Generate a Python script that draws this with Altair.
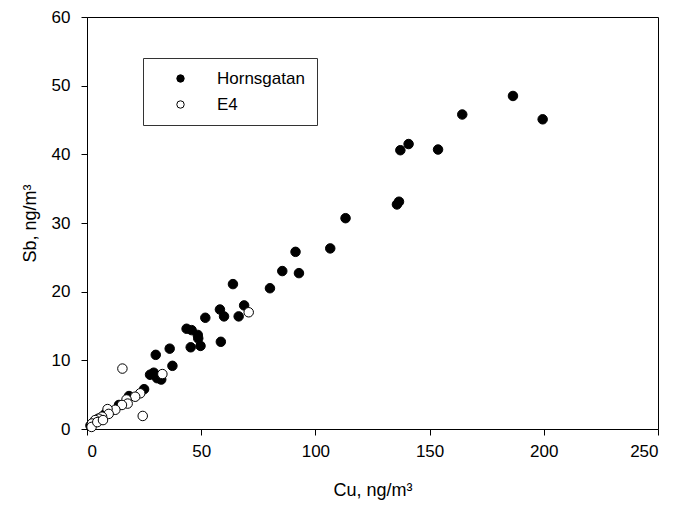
import altair as alt
import pandas as pd

# Hornsgatan (filled circles)
horn_cu = [186.5, 199.5, 164.3, 153.7, 140.8, 137.2, 136.6, 135.7, 113.2, 106.5,
           92.8, 91.3, 85.5, 80.1, 68.8, 66.4, 63.9, 60.0, 58.2, 58.6,
           51.8, 49.7, 48.5, 48.7, 45.8, 43.6, 45.4, 36.2, 37.4, 30.1,
           32.5, 30.7, 29.2, 27.6, 25.0, 18.4, 14.0, 8.0, 5.0, 3.0, 1.5]
horn_sb = [48.5, 45.1, 45.8, 40.7, 41.5, 40.6, 33.1, 32.7, 30.7, 26.3,
           22.7, 25.8, 23.0, 20.5, 18.0, 16.4, 21.1, 16.4, 17.4, 12.7,
           16.2, 12.1, 13.7, 13.2, 14.4, 14.6, 11.9, 11.7, 9.2, 10.8,
           7.2, 7.4, 8.2, 7.9, 5.8, 4.8, 3.5, 2.2, 1.5, 1.0, 0.5]

# E4 (open circles)
e4_cu = [70.8, 33.0, 15.5, 23.3, 24.4, 21.1, 17.3, 17.8, 15.3, 12.4,
         9.0, 9.5, 6.6, 5.1, 3.6, 2.2, 2.0, 4.5, 7.0]
e4_sb = [17.0, 8.0, 8.8, 5.2, 1.9, 4.7, 4.3, 3.7, 3.5, 2.8,
         2.9, 2.2, 1.8, 1.5, 1.3, 0.8, 0.3, 1.0, 1.3]

sites = ["Hornsgatan", "E4"]
x_ticks = [0, 50, 100, 150, 200, 250]
y_ticks = [0, 10, 20, 30, 40, 50, 60]

df = pd.DataFrame({
    "Cu": horn_cu + e4_cu,
    "Sb": horn_sb + e4_sb,
    "Site": [sites[0]] * len(horn_cu) + [sites[1]] * len(e4_cu),
})
df["ord"] = range(len(df))

FONT = "Liberation Sans"

chart = alt.Chart(df).mark_point(
    shape="circle", filled=True, size=90, stroke="black", strokeWidth=1, opacity=1
).encode(
    x=alt.X("Cu:Q", scale=alt.Scale(domain=[0, 250], nice=False),
            axis=alt.Axis(values=x_ticks, title="Cu, ng/m³", grid=False)),
    y=alt.Y("Sb:Q", scale=alt.Scale(domain=[0, 60], nice=False),
            axis=alt.Axis(values=y_ticks, title="Sb, ng/m³", grid=False)),
    fill=alt.Fill("Site:N", scale=alt.Scale(domain=sites, range=["black", "white"]),
                  legend=alt.Legend(title=None, orient="none", legendX=56, legendY=41,
                                    padding=12, strokeColor="#333333", fillColor="white",
                                    symbolSize=55, symbolStrokeColor="black", symbolStrokeWidth=1,
                                    symbolOffset=17, labelOffset=28, rowPadding=8,
                                    labelFontSize=17, labelFont=FONT, labelColor="black")),
    order=alt.Order("ord:Q"),
).properties(
    width=571, height=412,
    autosize=alt.AutoSizeParams(type="none"),
    padding={"left": 87, "top": 17, "right": 18, "bottom": 80},
).configure_view(
    stroke="black", strokeWidth=1
).configure_axis(
    domainColor="black", tickColor="black", tickSize=6, domainWidth=1, tickWidth=1,
    labelFont=FONT, labelFontSize=17, labelColor="black", labelPadding=8,
    titleFont=FONT, titleFontSize=18, titleFontWeight="normal", titleColor="black",
).configure_axisX(titlePadding=22).configure_axisY(titlePadding=12, labelPadding=11)

chart.save("out.html", embed_options={"renderer": "svg", "actions": False})
